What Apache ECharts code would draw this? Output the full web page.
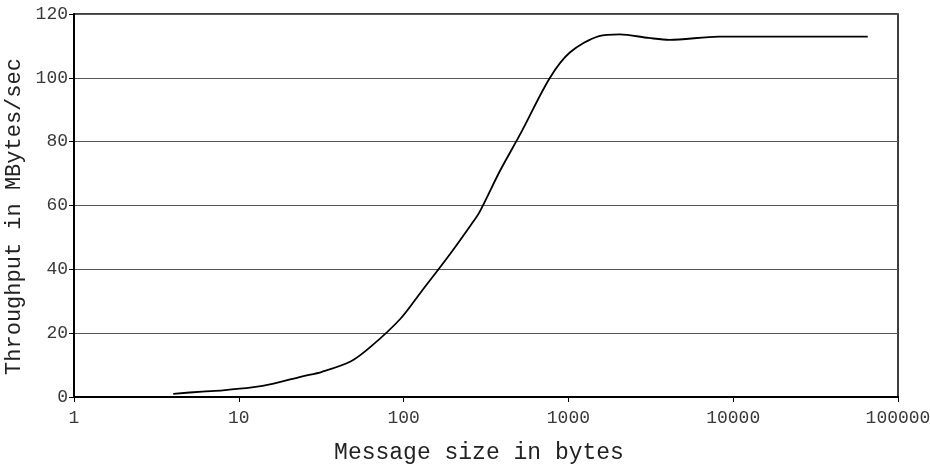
<!DOCTYPE html>
<html>
<head>
<meta charset="utf-8">
<script src="https://cdn.jsdelivr.net/npm/echarts@6/dist/echarts.min.js"></script>
<style>
  html, body { margin: 0; padding: 0; background: #fff; }
  #chart { width: 930px; height: 467px; }
</style>
</head>
<body>
<div id="chart"></div>
<script>
// Message sizes (bytes) and measured throughput (MBytes/sec)
var messageSizes = [4, 6, 8, 12, 16, 24, 32, 48, 64, 96, 128, 192, 256, 290, 384, 512, 768, 1024, 1536, 2048, 3072, 4096, 8192, 16384, 32768, 65536];
var throughput   = [1.0, 1.7, 2.1, 3.0, 4.1, 6.4, 7.9, 11.2, 16.0, 24.6, 33.0, 44.9, 53.9, 58.1, 70.8, 82.5, 99.8, 108.0, 113.1, 113.6, 112.5, 111.9, 112.9, 112.9, 112.9, 112.9];

// Axis ranges
var xMin = 1, xMax = 100000;
var yMin = 0, yMax = 120, yStep = 20;

var points = messageSizes.map(function (s, i) { return [s, throughput[i]]; });

var mono = '"Liberation Mono", "DejaVu Sans Mono", monospace';

var chart = echarts.init(document.getElementById('chart'), null, { renderer: 'canvas' });
chart.setOption({
  animation: false,
  backgroundColor: '#ffffff',
  grid: {
    left: 74, right: 32, top: 14, bottom: 70,
    containLabel: false,
    outerBoundsMode: 'none',
    show: true,
    borderColor: '#000',
    borderWidth: 1.5,
    backgroundColor: 'transparent'
  },
  xAxis: {
    type: 'log',
    logBase: 10,
    min: xMin,
    max: xMax,
    name: 'Message size in bytes',
    nameLocation: 'middle',
    nameGap: 44,
    nameTextStyle: { fontFamily: mono, fontSize: 23, color: '#222', padding: [0, 14, 0, 0] },
    axisLine: { show: true, lineStyle: { color: '#000', width: 2 } },
    axisTick: { show: true, length: 5, lineStyle: { color: '#000', width: 1 } },
    axisLabel: {
      fontFamily: mono, fontSize: 18, color: '#3a3a3a', margin: 12,
      formatter: function (v) { return String(Math.round(v)); }
    },
    splitLine: { show: false },
    minorTick: { show: false }
  },
  yAxis: {
    type: 'value',
    min: yMin,
    max: yMax,
    interval: yStep,
    name: 'Throughput in MBytes/sec',
    nameLocation: 'middle',
    nameGap: 37,
    nameRotate: 90,
    nameTextStyle: { fontFamily: mono, fontSize: 22, color: '#222', padding: [0, 22, 0, 0] },
    axisLine: { show: true, lineStyle: { color: '#000', width: 2 } },
    axisTick: { show: true, length: 5, lineStyle: { color: '#000', width: 1 } },
    axisLabel: { fontFamily: mono, fontSize: 18, color: '#3a3a3a', margin: 6 },
    splitLine: { show: true, lineStyle: { color: '#555', width: 1 } }
  },
  series: [{
    type: 'line',
    data: points,
    smooth: 0.3,
    showSymbol: false,
    symbol: 'none',
    lineStyle: { color: '#000', width: 1.8 },
    clip: true
  }]
});
</script>
</body>
</html>
